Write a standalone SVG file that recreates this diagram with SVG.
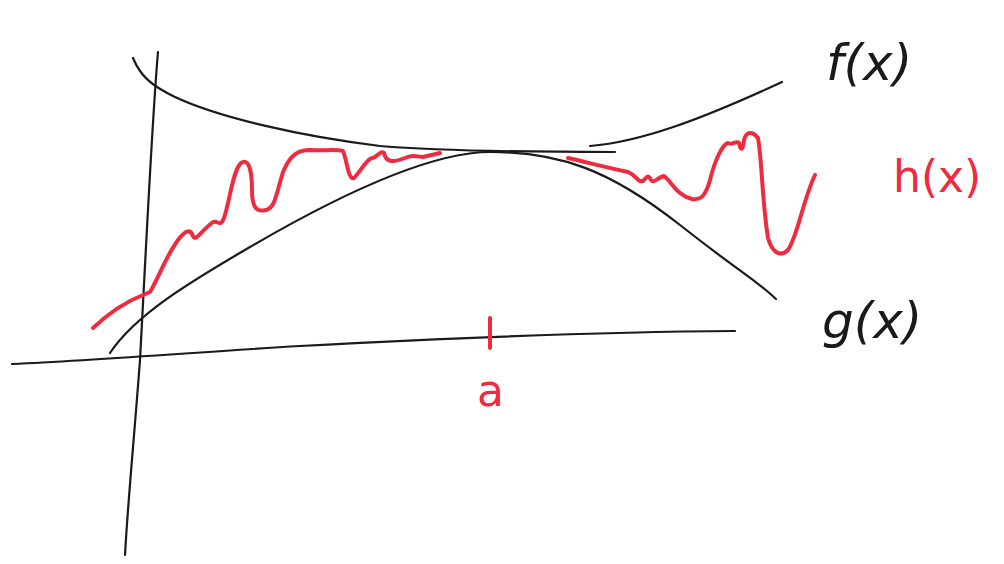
<svg xmlns="http://www.w3.org/2000/svg" width="1004" height="564" viewBox="0 0 1004 564">
<style>
.k{fill:none;stroke:#1a1a1a;stroke-width:2.2;stroke-linecap:round;stroke-linejoin:round}
.r{fill:none;stroke:#ee2b3f;stroke-width:4;stroke-linecap:round;stroke-linejoin:round}
.lk{font-family:"DejaVu Sans","Liberation Sans",sans-serif;font-size:50px;fill:#1a1a1a;font-style:italic}
.lr{font-family:"DejaVu Sans","Liberation Sans",sans-serif;font-size:44px;fill:#ee2b3f}
</style>
<rect width="1004" height="564" fill="#fff"/>
<g id="axes">
<path class="k" d="M12,364 C100,360 200,352 300,346 C450,338 600,332 735,331"/>
<path class="k" d="M158,52 C152,120 146,250 140,360 C134,440 128,500 125,555"/>
</g>
<g id="f">
<path class="k" d="M133,58 C140,75 150,85 175,97 C220,118 300,136 380,146 C440,151 520,152 615,152"/>
<path class="k" d="M590,146 C640,142 700,120 782,82"/>
</g>
<g id="g">
<path class="k" d="M110,353 C135,315 190,282 250,247 S420,152 490,152 S610,170 680,225 S750,275 776,299"/>
</g>
<g id="h">
<path class="r" d="M93,328 C110,312 125,302 143,295 L150,292 C160,275 165,258 178,240 C185,231 190,228 193,236 C196,242 200,232 213,222 C218,220 220,228 224,218 C230,200 233,170 241,163 C248,158 252,168 252,190 C252,210 258,212 266,210 C275,208 276,195 283,172 C290,155 298,150 310,150 C325,151 335,149 343,151 C347,160 348,180 354,178 C360,172 368,157 373,158 C378,156 381,150 384,153 C386,162 392,163 405,158 C412,155 415,156 423,157 L440,153"/>
<path class="r" d="M568,158 C590,163 600,166 628,172 C636,175 638,183 643,181 C647,177 648,174 651,180 C654,184 658,177 664,176 C672,182 676,195 692,199 C700,200 705,198 710,180 C715,160 722,145 728,143 C732,146 736,140 739,143 C741,152 743,150 744,140 C746,132 752,130 758,138 C762,160 762,200 768,238 C772,252 780,258 788,250 C798,235 803,200 815,175"/>
<path class="r" d="M490,318 L490,348"/>
</g>
<g id="labels">
<text class="lk" x="826" y="80">f(x)</text>
<text class="lr" x="893" y="192">h(x)</text>
<text class="lk" x="822" y="338">g(x)</text>
<text class="lr" x="477" y="406">a</text>
</g>
</svg>
